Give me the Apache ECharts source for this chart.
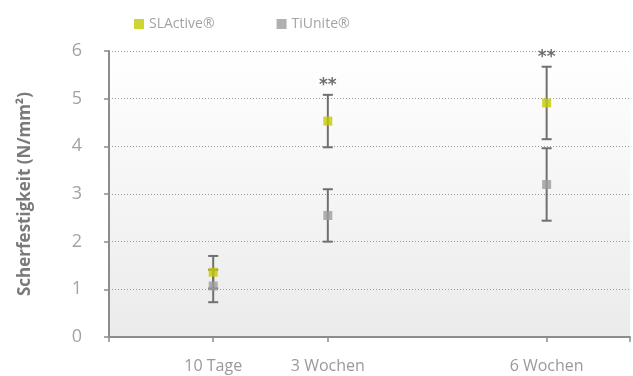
<!DOCTYPE html>
<html>
<head>
<meta charset="utf-8">
<script src="https://cdn.jsdelivr.net/npm/echarts@6/dist/echarts.min.js"></script>
<style>
  html, body { margin: 0; padding: 0; background: #fff; }
  #chart { width: 633px; height: 376px; }
</style>
</head>
<body>
<div id="chart"></div>
<script>
// time points in days and their labels
const days = [10, 21, 42];
const dayLabels = ['10 Tage', '3 Wochen', '6 Wochen'];

// mean shear strength (N/mm²) and error (±)
const slActive = [1.36, 4.53, 4.91];
const slActiveErr = [0.34, 0.55, 0.76];
const tiUnite = [1.07, 2.55, 3.20];
const tiUniteErr = [0.34, 0.55, 0.76];
const significance = ['', '**', '**'];

const GREEN = '#c3cc00';
const GREY = '#9c9c9c';
const BAR = '#707070';

const errData = (mean, err, sig) =>
  days.map((d, i) => [d, mean[i] - err[i], mean[i] + err[i], sig ? sig[i] : '']);

const renderErr = (params, api) => {
  const lo = api.coord([api.value(0), api.value(1)]);
  const hi = api.coord([api.value(0), api.value(2)]);
  const sig = api.value(3);
  const half = 5;
  const style = { stroke: BAR, lineWidth: 2 };
  const children = [
    { type: 'line', shape: { x1: lo[0], y1: lo[1], x2: hi[0], y2: hi[1] }, style: style },
    { type: 'line', shape: { x1: lo[0] - half, y1: lo[1], x2: lo[0] + half, y2: lo[1] }, style: style },
    { type: 'line', shape: { x1: hi[0] - half, y1: hi[1], x2: hi[0] + half, y2: hi[1] }, style: style }
  ];
  if (sig) {
    // significance stars above the upper cap
    children.push({
      type: 'text',
      style: {
        text: sig, x: hi[0], y: hi[1] - 1, align: 'center', verticalAlign: 'bottom',
        fill: '#6f6f6f', fontSize: 17, fontWeight: 'bold', fontFamily: 'DejaVu Sans'
      }
    });
  }
  return { type: 'group', children: children };
};

const chart = echarts.init(document.getElementById('chart'));

chart.setOption({
  animation: false,
  legend: {
    left: 129,
    top: 12,
    itemWidth: 10,
    itemHeight: 10,
    itemGap: 62,
    icon: 'rect',
    data: ['SLActive®', 'TiUnite®'],
    textStyle: { color: '#a3a3a3', fontSize: 14, fontFamily: 'Open Sans' }
  },
  grid: {
    left: 109, right: 3, top: 51, bottom: 39,
    show: true,
    borderWidth: 0,
    backgroundColor: new echarts.graphic.LinearGradient(0, 0, 0, 1, [
      { offset: 0, color: '#ffffff' },
      { offset: 1, color: '#ebebeb' }
    ])
  },
  xAxis: {
    type: 'value',
    min: 0,
    max: 50,
    splitLine: { show: false },
    axisLine: { lineStyle: { color: '#8c8c8c', width: 2 } },
    axisTick: {
      show: true, length: 5, customValues: [0, 10, 21, 42, 50],
      lineStyle: { color: '#8c8c8c', width: 1.5 }
    },
    axisLabel: {
      customValues: days,
      margin: 21,
      color: '#9a9a9a',
      fontSize: 16,
      fontFamily: 'Open Sans',
      formatter: v => dayLabels[days.indexOf(v)]
    }
  },
  yAxis: {
    type: 'value',
    min: 0,
    max: 6,
    interval: 1,
    name: 'Scherfestigkeit (N/mm²)',
    nameLocation: 'middle',
    nameGap: 75,
    nameTextStyle: { color: '#7a7a7a', fontSize: 17, fontWeight: 'bold', fontFamily: 'Open Sans' },
    axisLine: { show: true, lineStyle: { color: '#8c8c8c', width: 2 } },
    axisTick: { show: true, length: 5, lineStyle: { color: '#8c8c8c', width: 1.5 } },
    axisLabel: {
      margin: 27,
      color: '#a3a3a3',
      fontSize: 18,
      fontFamily: 'Open Sans',
      padding: [0, 0, 8, 0]
    },
    splitLine: { lineStyle: { color: '#9a9a9a', type: [1, 2], width: 1 } }
  },
  series: [
    {
      type: 'custom',
      name: 'TiUnite err',
      renderItem: renderErr,
      encode: { x: 0, y: [1, 2] },
      data: errData(tiUnite, tiUniteErr, null),
      z: 2
    },
    {
      type: 'custom',
      name: 'SLActive err',
      renderItem: renderErr,
      encode: { x: 0, y: [1, 2] },
      data: errData(slActive, slActiveErr, significance),
      z: 2
    },
    {
      type: 'scatter',
      name: 'SLActive®',
      symbol: 'rect',
      symbolSize: 9,
      itemStyle: { color: GREEN },
      data: days.map((d, i) => [d, slActive[i]]),
      z: 5
    },
    {
      type: 'scatter',
      name: 'TiUnite®',
      symbol: 'rect',
      symbolSize: 9,
      itemStyle: { color: GREY },
      data: days.map((d, i) => [d, tiUnite[i]]),
      z: 5
    }
  ]
});
</script>
</body>
</html>
